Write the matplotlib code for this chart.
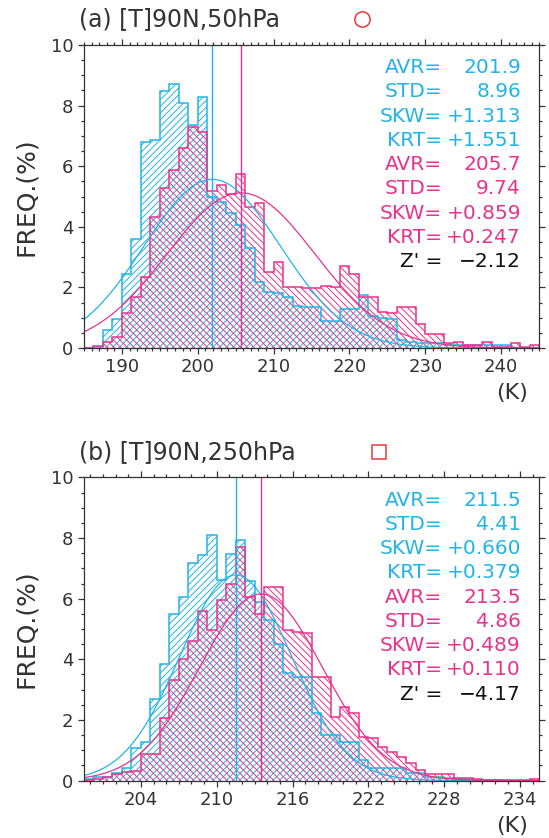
import numpy as np
import matplotlib
matplotlib.use('Agg')
from matplotlib import pyplot as plt

# ---- data ----
# panel (a): 90N 50hPa, 48 bins of 1.25 K from 185 K
edges_a_start, width_a = 185.0, 1.25
blue_a = [0, 0.05, 0.6, 0.95, 2.43, 3.6, 6.79, 6.85, 8.48, 8.71, 8.1, 7.36,
          8.27, 5.0, 4.83, 4.47, 4.06, 3.29, 2.17, 1.84, 1.8, 1.7, 1.4, 1.36,
          1.36, 0.9, 0.9, 1.3, 1.3, 1.75, 1.05, 1.0, 0.95, 0.25, 0.2, 0.15,
          0.15, 0.15, 0.1, 0.1, 0.1, 0.1, 0.1, 0.1, 0.1, 0, 0, 0]
pink_a = [0, 0.07, 0.21, 0.35, 1.14, 1.69, 2.35, 4.31, 5.27, 5.87, 6.59, 7.28,
          7.12, 5.19, 5.38, 5.08, 5.73, 4.66, 4.77, 2.5, 2.85, 2.02, 2.02, 1.97,
          1.97, 2.05, 2.0, 2.7, 2.45, 1.7, 1.7, 1.2, 1.15, 1.35, 1.35, 0.8,
          0.45, 0.45, 0.15, 0.2, 0.1, 0.1, 0.2, 0.05, 0.05, 0.15, 0.05, 0.1]
stats_blue_a = [201.9, 8.96, 1.313, 1.551]
stats_pink_a = [205.7, 9.74, 0.859, 0.247]
z_a = -2.12

# panel (b): 90N 250hPa, 48 bins of 0.75 K from 199.5 K
edges_b_start, width_b = 199.5, 0.75
blue_b = [0.05, 0.1, 0.13, 0.24, 0.4, 1.06, 1.28, 2.68, 3.83, 5.49, 6.06, 7.17,
          7.45, 8.1, 6.62, 7.49, 7.94, 6.6, 5.9, 5.3, 4.5, 3.54, 3.4, 3.4,
          2.22, 1.5, 1.5, 1.28, 1.28, 0.68, 0.4, 0.4, 0.4, 0.4, 0.24, 0.24,
          0.13, 0.1, 0.08, 0.05, 0.05, 0.02, 0.02, 0.02, 0, 0, 0, 0]
pink_b = [0.02, 0.05, 0.1, 0.2, 0.27, 0.3, 0.87, 0.87, 2.05, 3.32, 4.0, 4.6,
          5.6, 4.97, 5.96, 6.5, 7.7, 6.06, 5.5, 6.4, 6.4, 4.97, 4.91, 4.86,
          3.43, 3.43, 2.1, 2.44, 2.22, 1.45, 1.39, 1.12, 0.95, 0.78, 0.59, 0.35,
          0.2, 0.2, 0.2, 0.07, 0.07, 0.05, 0.03, 0.03, 0.03, 0.02, 0.02, 0.05]
stats_blue_b = [211.5, 4.41, 0.660, 0.379]
stats_pink_b = [213.5, 4.86, 0.489, 0.110]
z_b = -4.17

titles = ['(a) [T]90N,50hPa', '(b) [T]90N,250hPa']
markers = ['o', 's']
xticks_a = [190, 200, 210, 220, 230, 240]
xticks_b = [204, 210, 216, 222, 228, 234]

CYAN = '#22b4e6'
PINK = '#e8338c'
GREY = '#333333'

plt.rcParams['font.family'] = ['DejaVu Sans']
plt.rcParams['hatch.linewidth'] = 0.7


def draw_panel(ax, start, width, blue, pink, sb, sp, z, xlim, xticks, title, mk):
    edges = start + width * np.arange(len(blue) + 1)
    # hatched bodies (no internal bar edges), then step outlines
    ax.stairs(blue, edges, fill=True, facecolor='none', edgecolor=CYAN,
              hatch='/////', linewidth=0)
    ax.stairs(pink, edges, fill=True, facecolor='none', edgecolor=PINK,
              hatch='\\\\\\\\\\', linewidth=0)
    ax.stairs(blue, edges, color=CYAN, linewidth=1.1)
    ax.stairs(pink, edges, color=PINK, linewidth=1.1)

    # fitted normal curves from the printed mean / std
    xx = np.linspace(xlim[0], xlim[1], 400)
    for (m, s, _, _), c in [(sb, CYAN), (sp, PINK)]:
        yy = width * 100 / (s * np.sqrt(2 * np.pi)) * np.exp(-0.5 * ((xx - m) / s) ** 2)
        ax.plot(xx, yy, color=c, lw=0.9)
        ax.axvline(m, color=c, lw=1.0)

    ax.set_xlim(*xlim)
    ax.set_ylim(0, 10)
    ax.set_xticks(xticks)
    ax.set_xticks(np.arange(np.ceil(xlim[0]), xlim[1] + 0.01, 1), minor=True)
    ax.set_yticks([0, 2, 4, 6, 8, 10])
    ax.set_yticks(np.arange(0, 10.01, 0.5), minor=True)
    ax.tick_params(which='both', direction='out', top=True, right=True,
                   color=GREY, labelcolor=GREY, labelsize=13, width=0.9)
    ax.tick_params(which='major', length=4.5, pad=3)
    ax.tick_params(which='minor', length=2.3)
    for sp_ in ax.spines.values():
        sp_.set_color(GREY)
        sp_.set_linewidth(0.9)
    ax.set_ylabel('FREQ.(%)', fontsize=18, color=GREY, labelpad=9)
    ax.text(0.975, -0.15, '(K)', transform=ax.transAxes, ha='right', va='center',
            fontsize=16, color=GREY)
    ax.text(-0.01, 1.085, title, transform=ax.transAxes, ha='left', va='center',
            fontsize=17, color=GREY)
    ax.plot([0.61 if mk == 'o' else 0.648], [1.085], marker=mk,
            ms=11 if mk == 'o' else 10,
            mfc='none', mec='#e83a3a', mew=1.1, transform=ax.transAxes, clip_on=False)

    labels = ['AVR=', 'STD=', 'SKW=', 'KRT=']
    vals_b = ['%.1f' % sb[0], '%.2f' % sb[1], '%+.3f' % sb[2], '%+.3f' % sb[3]]
    vals_p = ['%.1f' % sp[0], '%.2f' % sp[1], '%+.3f' % sp[2], '%+.3f' % sp[3]]
    rows = [(l, v, CYAN) for l, v in zip(labels, vals_b)] + \
           [(l, v, PINK) for l, v in zip(labels, vals_p)] + \
           [("Z' =", '\u2212%.2f' % abs(z), '#111111')]
    for i, (l, v, c) in enumerate(rows):
        y = 0.925 - i * 0.08
        ax.text(0.787, y, l, transform=ax.transAxes, ha='right', va='center',
                fontsize=14.5, color=c)
        ax.text(0.96, y, v, transform=ax.transAxes, ha='right', va='center',
                fontsize=14.5, color=c)


fig = plt.figure(figsize=(5.49, 8.38), dpi=100)
ax1 = fig.add_axes([0.153, 0.5847, 0.829, 0.3616])
ax2 = fig.add_axes([0.153, 0.0686, 0.829, 0.3616])

draw_panel(ax1, edges_a_start, width_a, blue_a, pink_a, stats_blue_a, stats_pink_a,
           z_a, (185, 245), xticks_a, titles[0], markers[0])
draw_panel(ax2, edges_b_start, width_b, blue_b, pink_b, stats_blue_b, stats_pink_b,
           z_b, (199.5, 235.5), xticks_b, titles[1], markers[1])

fig.savefig('out.png', dpi=100)
